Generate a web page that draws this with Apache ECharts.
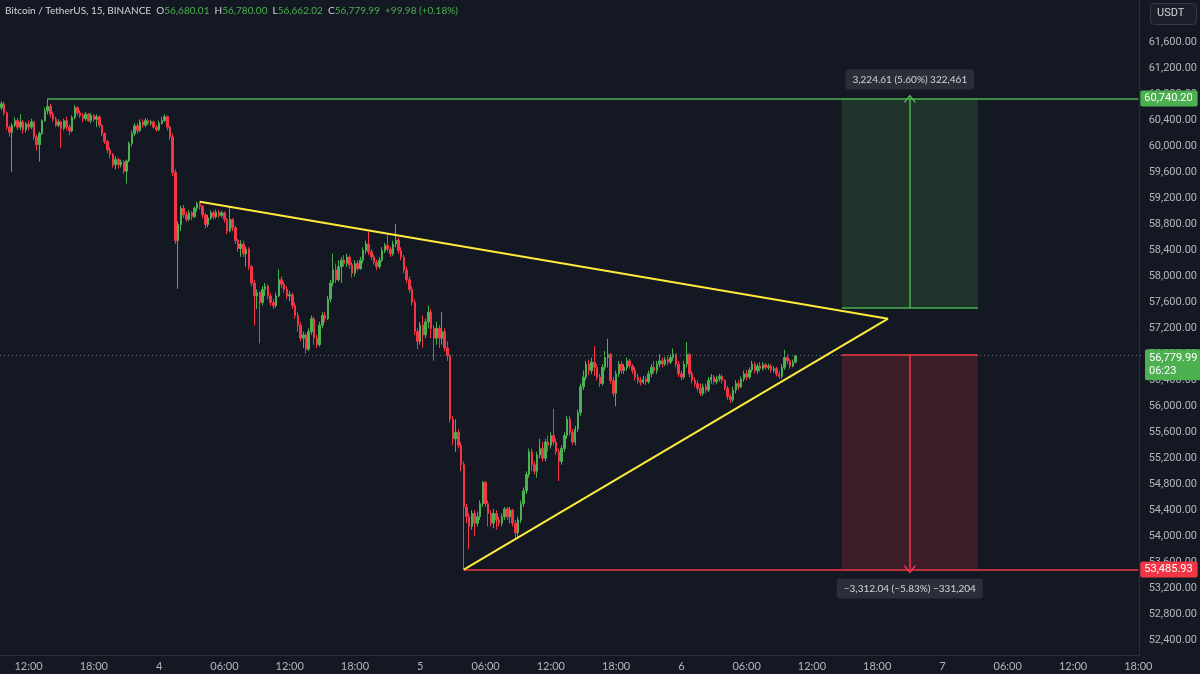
<!DOCTYPE html>
<html><head><meta charset="utf-8">
<script src="https://cdn.jsdelivr.net/npm/echarts@6/dist/echarts.min.js"></script>
<style>html,body{margin:0;padding:0;background:#141823;}#c{width:1200px;height:674px;}</style>
</head><body><div id="c"></div>
<script>
// ---- data ----
const startTime = Date.UTC(2024, 6, 3, 9, 30); // first 15m slot
const slotCount = 419;                          // slots shown on the time axis (incl. future space)
// [open, close, low, high] per 15-minute candle
const ohlc = [
[60600,60660,60560,60700],[60660,60520,60480,60690],[60520,60300,60260,60540],[60300,60220,60150,60330],
[60220,60330,59610,60360],[60330,60400,60300,60450],[60400,60300,60260,60440],[60300,60380,60250,60500],
[60380,60260,60200,60410],[60260,60350,60220,60380],[60350,60300,60250,60400],[60300,60380,60270,60430],
[60380,60150,60100,60400],[60150,60030,59940,60180],[60030,60200,59770,60230],[60200,60400,60180,60420],
[60400,60550,60380,60600],[60550,60620,60500,60740.2],
[60620,60500,60450,60660],[60500,60420,60380,60540],[60420,60330,60300,60460],[60330,60380,60300,60420],
[60380,60280,59980,60400],[60280,60400,60250,60430],[60400,60300,60250,60460],[60300,60240,60180,60340],
[60240,60450,60220,60480],[60450,60600,60420,60640],[60600,60520,60480,60620],[60520,60480,60440,60560],
[60480,60430,60380,60520],[60430,60500,60400,60530],[60500,60400,60380,60520],[60400,60480,60360,60520],
[60480,60420,60380,60500],[60420,60460,60300,60500],[60460,60330,60290,60480],[60330,60200,60160,60350],
[60200,60080,60040,60220],[60080,59950,59900,60100],[59950,59880,59820,59990],[59880,59720,59680,59900],
[59720,59800,59650,59850],[59800,59720,59660,59830],[59720,59760,59680,59800],[59760,59620,59580,59790],
[59620,59780,59430,59800],[59780,60050,59760,60080],[60050,60200,60000,60250],
[60200,60320,60160,60360],[60320,60250,60200,60360],[60250,60380,60220,60420],[60380,60330,60290,60420],
[60330,60400,60300,60440],[60400,60360,60330,60430],[60360,60380,60320,60410],[60380,60300,60280,60400],
[60300,60260,60230,60330],[60260,60360,60240,60400],[60360,60400,60340,60460],[60400,60460,60380,60500],
[60460,60300,60250,60480],[60300,60150,60100,60320],[60150,59600,59550,60200],[59600,58550,58500,59650],
[58550,58800,57810,58850],[58800,59050,58700,59090],[59050,58950,58900,59100],[58950,58880,58840,59000],
[58880,58980,58850,59020],[58980,58920,58870,59010],[58920,59050,58900,59080],[59050,59120,59000,59150],
[59120,59080,59030,59160],
[59080,58950,58900,59100],[58950,58800,58740,58980],[58800,58900,58760,58950],[58900,58980,58870,59020],
[58980,58920,58880,59010],[58920,58990,58890,59030],[58990,58940,58900,59020],[58940,58980,58910,59010],
[58980,58880,58830,59000],[58880,58700,58650,58900],[58700,58880,58680,59070],[58880,58750,58700,58900],
[58750,58550,58500,58780],[58550,58430,58380,58580],[58430,58500,58300,58560],[58500,58350,58300,58550],
[58350,58420,58150,58460],[58420,58150,58100,58450],[58150,57900,57850,58180],[57900,57700,57240,57950],
[57700,57750,57500,57800],[57750,57600,56970,57780],[57600,57800,57550,57850],[57800,57850,57700,57900],
[57850,57700,57650,57880],[57700,57600,57550,57750],[57600,57550,57500,57650],[57550,57700,57520,57750],
[57700,57950,57680,58110],[57950,57880,57820,58000],[57880,57800,57750,57920],[57800,57700,57650,57850],
[57700,57720,57620,57780],[57720,57550,57500,57750],[57550,57400,57350,57600],[57400,57250,57150,57450],
[57250,57050,57000,57300],[57050,57100,56900,57150],[57100,56880,56810,57120],[56880,57150,56850,57200],
[57150,57350,57100,57400],[57350,57050,56950,57380],[57050,56950,56900,57100],[56950,57250,56920,57300],
[57250,57400,57200,57450],[57400,57350,57300,57450],[57350,57650,57330,57700],[57650,57900,57600,57950],
[57900,58100,57850,58350],[58100,57950,57900,58200],[57950,58150,57920,58250],[58150,58250,57900,58300],
[58250,58200,58150,58330],[58200,58300,58150,58350],[58300,58180,58120,58330],[58180,58050,57980,58220],
[58050,58200,58000,58250],[58200,58120,58080,58250],[58120,58250,58100,58300],[58250,58400,58200,58450],
[58400,58500,58350,58550],[58500,58380,58330,58690],[58380,58300,58250,58420],[58300,58220,58180,58340],
[58220,58150,58100,58260],[58150,58250,58120,58300],[58250,58400,58220,58450],[58400,58480,58360,58520],
[58480,58420,58380,58650],[58420,58350,58300,58460],[58350,58500,58320,58550],[58500,58560,58450,58810],
[58560,58400,58350,58600],[58400,58300,58250,58450],[58300,58100,58050,58330],[58100,57950,57900,58150],
[57950,57800,57750,58000],[57800,57600,57550,57850],[57600,57150,57100,57650],[57150,57000,56880,57200],
[57000,57250,56950,57300],[57250,57100,56900,57400],[57100,57300,57050,57350],[57300,57450,57200,57550],
[57450,57200,57050,57500],[57200,57050,56700,57250],[57050,57200,56950,57300],[57200,57050,56900,57250],
[57050,57150,56950,57450],[57150,56900,56850,57200],[56900,56780,56700,57000],[56780,55800,55750,56800],
[55800,55500,55400,55850],[55500,55600,55300,55800],[55600,55400,55350,55650],[55400,55100,55000,55450],
[55100,54450,53485.93,55150],
[54450,54300,54200,54500],[54300,54150,53800,54350],[54150,54350,54100,54400],[54350,54200,54000,54400],
[54200,54300,54150,54380],[54300,54500,54250,54550],[54500,54830,54450,54850],[54830,54500,54450,54850],
[54500,54350,54150,54550],[54350,54200,54150,54400],[54200,54350,54120,54420],[54350,54250,54100,54400],
[54250,54200,54150,54300],[54200,54300,54150,54350],[54300,54420,54250,54450],[54420,54300,54250,54450],
[54300,54400,54200,54450],[54400,54200,54150,54420],[54200,54050,53950,54250],[54050,54250,53970,54300],
[54250,54500,54200,54550],[54500,54700,54450,54750],[54700,54950,54650,55000],[54950,55300,54900,55350],
[55300,55100,55000,55350],[55100,55000,54950,55150],[55000,55250,54900,55300],[55250,55350,55200,55500],
[55350,55200,55150,55450],[55200,55450,55150,55500],[55450,55400,55300,55550],[55400,55550,55350,55600],
[55550,55450,55400,55960],[55450,55300,55250,55500],[55300,55150,54850,55350],[55150,55350,55100,55400],
[55350,55550,55300,55600],[55550,55800,55500,55850],[55800,55600,55550,55850],[55600,55450,55400,55650],
[55450,55650,55400,55700],[55650,55900,55600,55950],[55900,56300,55850,56350],[56300,56450,56250,56550],
[56450,56650,56400,56700],[56650,56550,56480,56720],[56550,56680,56500,56750],[56680,56600,56470,56930],
[56600,56450,56400,56650],[56450,56350,56300,56500],[56350,56600,56320,56650],[56600,56750,56550,56850],
[56750,56800,56600,57040],[56800,56400,56350,56820],[56400,56200,56150,56450],[56200,56500,56000,56550],
[56500,56650,56450,56700],[56650,56550,56500,56700],[56550,56600,56500,56650],[56600,56700,56550,56750],
[56700,56620,56580,56730],[56620,56550,56500,56650],[56550,56450,56400,56600],[56450,56400,56350,56500],
[56400,56370,56320,56450],[56370,56420,56340,56470],[56420,56380,56330,56460],[56380,56500,56350,56550],
[56500,56600,56450,56650],[56600,56550,56500,56700],[56550,56650,56500,56700],[56650,56700,56600,56800],
[56700,56650,56600,56750],[56650,56720,56620,56760],[56720,56680,56630,56780],[56680,56750,56650,56800],
[56750,56800,56700,56890],[56800,56650,56600,56820],[56650,56500,56450,56700],[56500,56450,56400,56550],
[56450,56650,56420,56700],[56650,56800,56600,56990],[56800,56500,56450,56820],[56500,56400,56350,56550],
[56400,56350,56300,56450],[56350,56280,56230,56400],[56280,56200,56160,56350],[56200,56300,56160,56350],
[56300,56250,56200,56350],[56250,56400,56220,56450],[56400,56450,56350,56500],[56450,56380,56330,56480],
[56380,56420,56340,56470],[56420,56460,56380,56500],[56460,56400,56350,56490],[56400,56280,56250,56420],
[56280,56150,56100,56320],[56150,56100,56050,56200],[56100,56250,56060,56300],[56250,56350,56200,56400],
[56350,56300,56250,56400],[56300,56420,56280,56460],[56420,56500,56380,56550],[56500,56450,56400,56560],
[56450,56560,56420,56600],[56560,56650,56520,56700],[56650,56550,56500,56680],[56550,56620,56500,56660],
[56620,56580,56530,56680],[56580,56640,56550,56680],[56640,56600,56560,56670],[56600,56620,56560,56660],
[56620,56560,56520,56650],[56560,56580,56520,56620],[56580,56500,56460,56610],[56500,56460,56420,56540],
[56460,56600,56430,56650],[56600,56750,56560,56870],[56750,56700,56650,56800],[56700,56620,56580,56730],
[56620,56680,56600,56720],[56680.01,56779.99,56662.02,56780.00]
];
const yTicks = [52400,52800,53200,53600,54000,54400,54800,55200,55600,56000,56400,56800,57200,57600,58000,58400,58800,59200,59600,60000,60400,60800,61200,61600];
const yRange = [52170, 62258];
const highIndex = 17, highLevel = 60740.20;
const lowIndex = 170, lowLevel = 53485.93;
const lastPrice = 56779.99, lastCountdown = '06:23';
const longEntry = 57515.59, shortEntry = 56797.97;
const boxSpan = [309, 359], arrowIndex = 334;
const triangleUpper = [[73, 59150], [326, 57350]];
const triangleLower = [[170, 53486], [326, 57350]];
const longText = '3,224.61 (5.60%) 322,461';
const shortText = '\u22123,312.04 (\u22125.83%) \u2212331,204';
const header = {name: 'Bitcoin / TetherUS, 15, BINANCE', o: '56,680.01', h: '56,780.00', l: '56,662.02', c: '56,779.99', chg: '+99.98 (+0.18%)'};

// ---- build ----
const pad = n => (n < 10 ? '0' : '') + n;
const categories = [];
for (let k = 0; k < slotCount; k++) {
  const d = new Date(startTime + k * 15 * 60000);
  categories.push(pad(d.getUTCMonth() + 1) + '-' + pad(d.getUTCDate()) + ' ' + pad(d.getUTCHours()) + ':' + pad(d.getUTCMinutes()));
}
const fmt = v => v.toLocaleString('en-US', {minimumFractionDigits: 2, maximumFractionDigits: 2});
const GREEN = '#4caf50', RED = '#f23645', YELLOW = '#ffeb3b', TXT = '#b2b5be';
const FONT = 'Roboto, "Noto Sans", sans-serif';
const HFONT = 'Lato, Roboto, sans-serif';
const chevron = 'path://M0,8 L6,0 L12,8 L10.3,8 L6,2.4 L1.7,8 Z';
const tag = (bg, text) => ({show: true, position: 'end', distance: 2, formatter: text, backgroundColor: bg, color: '#ffffff',
  padding: [3, 5, 2, 4], fontSize: 11, fontFamily: FONT, borderRadius: 2});
const boxLabel = text => ({show: true, position: 'end', distance: 9, formatter: text, backgroundColor: '#2a2e39', color: '#d1d4dc',
  padding: [5, 7, 5, 7], fontSize: 10, fontFamily: HFONT, borderRadius: 3});

const chart = echarts.init(document.getElementById('c'), null, {renderer: 'canvas'});
chart.setOption({
  backgroundColor: '#141823',
  animation: false,
  title: {
    left: 5, top: 6, padding: 0,
    text: '{n|' + header.name + '}  {k|O}{v|' + header.o + '}  {k|H}{v|' + header.h + '}  {k|L}{v|' + header.l + '}  {k|C}{v|' + header.c + '}  {v|' + header.chg + '}',
    textStyle: {fontSize: 10, fontWeight: 'normal', fontFamily: HFONT,
      rich: {n: {color: '#d1d4dc', fontSize: 10, fontFamily: HFONT}, k: {color: '#d1d4dc', fontSize: 10, fontFamily: HFONT}, v: {color: GREEN, fontSize: 10, fontFamily: HFONT}}}
  },
  graphic: [
    {type: 'rect', right: 3, top: 3, shape: {width: 46, height: 21, r: 4}, style: {fill: '#1b1f2a', stroke: '#363a45', lineWidth: 1}, z: 10},
    {type: 'text', left: 1157, top: 8, style: {text: 'USDT', fill: '#d1d4dc', font: '11px ' + FONT}, z: 11}
  ],
  grid: {left: 0, right: 57, top: 0, bottom: 19},
  xAxis: {
    type: 'category', data: categories, boundaryGap: true,
    axisLine: {show: true, lineStyle: {color: '#2a2e39'}},
    axisTick: {show: false},
    splitLine: {show: false},
    axisLabel: {
      color: TXT, fontSize: 11, fontFamily: HFONT, margin: 6, hideOverlap: false,
      interval: (idx, val) => val.slice(9, 11) === '00' && (+val.slice(6, 8)) % 6 === 0,
      formatter: val => (val.slice(6, 8) === '00' ? String(+val.slice(3, 5)) : val.slice(6, 11))
    }
  },
  yAxis: {
    type: 'value', position: 'right', scale: true, min: yRange[0], max: yRange[1],
    axisLine: {show: true, lineStyle: {color: '#2a2e39'}},
    axisTick: {show: false},
    splitLine: {show: false},
    axisLabel: {color: TXT, fontSize: 11, fontFamily: FONT, margin: 9, customValues: yTicks, formatter: v => fmt(v)}
  },
  series: [{
    type: 'candlestick',
    data: ohlc,
    barWidth: '72%',
    itemStyle: {color: GREEN, color0: RED, borderColor: GREEN, borderColor0: RED, borderWidth: 1},
    markArea: {
      silent: true,
      data: [
        [{coord: [boxSpan[0], highLevel], itemStyle: {color: 'rgba(76,175,80,0.18)'}}, {coord: [boxSpan[1], longEntry]}],
        [{coord: [boxSpan[0], shortEntry], itemStyle: {color: 'rgba(242,54,69,0.18)'}}, {coord: [boxSpan[1], lowLevel]}]
      ]
    },
    markLine: {
      silent: true, symbol: ['none', 'none'], precision: 2,
      data: [
        [{yAxis: lastPrice, x: 0, lineStyle: {color: '#6b6f7a', type: [1, 3], width: 1}, label: Object.assign(tag(GREEN, fmt(lastPrice) + '\n' + lastCountdown), {lineHeight: 13, offset: [0, 9]})},
         {yAxis: lastPrice, x: 1143}],
        [{coord: [highIndex, highLevel], lineStyle: {color: GREEN, type: 'solid', width: 1.5}, label: tag(GREEN, fmt(highLevel))},
         {coord: [slotCount - 1, highLevel]}],
        [{coord: [lowIndex, lowLevel], lineStyle: {color: RED, type: 'solid', width: 1.5}, label: tag(RED, fmt(lowLevel))},
         {coord: [slotCount - 1, lowLevel]}],
        [{coord: [boxSpan[0], longEntry], lineStyle: {color: GREEN, type: 'solid', width: 1.5}, label: {show: false}},
         {coord: [boxSpan[1], longEntry]}],
        [{coord: [boxSpan[0], shortEntry], lineStyle: {color: RED, type: 'solid', width: 1.5}, label: {show: false}},
         {coord: [boxSpan[1], shortEntry]}],
        [{coord: [arrowIndex, longEntry], lineStyle: {color: GREEN, type: 'solid', width: 1.5}, label: boxLabel(longText)},
         {coord: [arrowIndex, highLevel], symbol: chevron, symbolSize: [13, 8]}],
        [{coord: [arrowIndex, shortEntry], lineStyle: {color: RED, type: 'solid', width: 1.5}, label: boxLabel(shortText)},
         {coord: [arrowIndex, lowLevel], symbol: chevron, symbolSize: [13, 8]}],
        [{coord: triangleUpper[0], lineStyle: {color: YELLOW, type: 'solid', width: 2}, label: {show: false}},
         {coord: triangleUpper[1]}],
        [{coord: triangleLower[0], lineStyle: {color: YELLOW, type: 'solid', width: 2}, label: {show: false}},
         {coord: triangleLower[1]}]
      ]
    }
  }]
});
</script>
</body></html>
